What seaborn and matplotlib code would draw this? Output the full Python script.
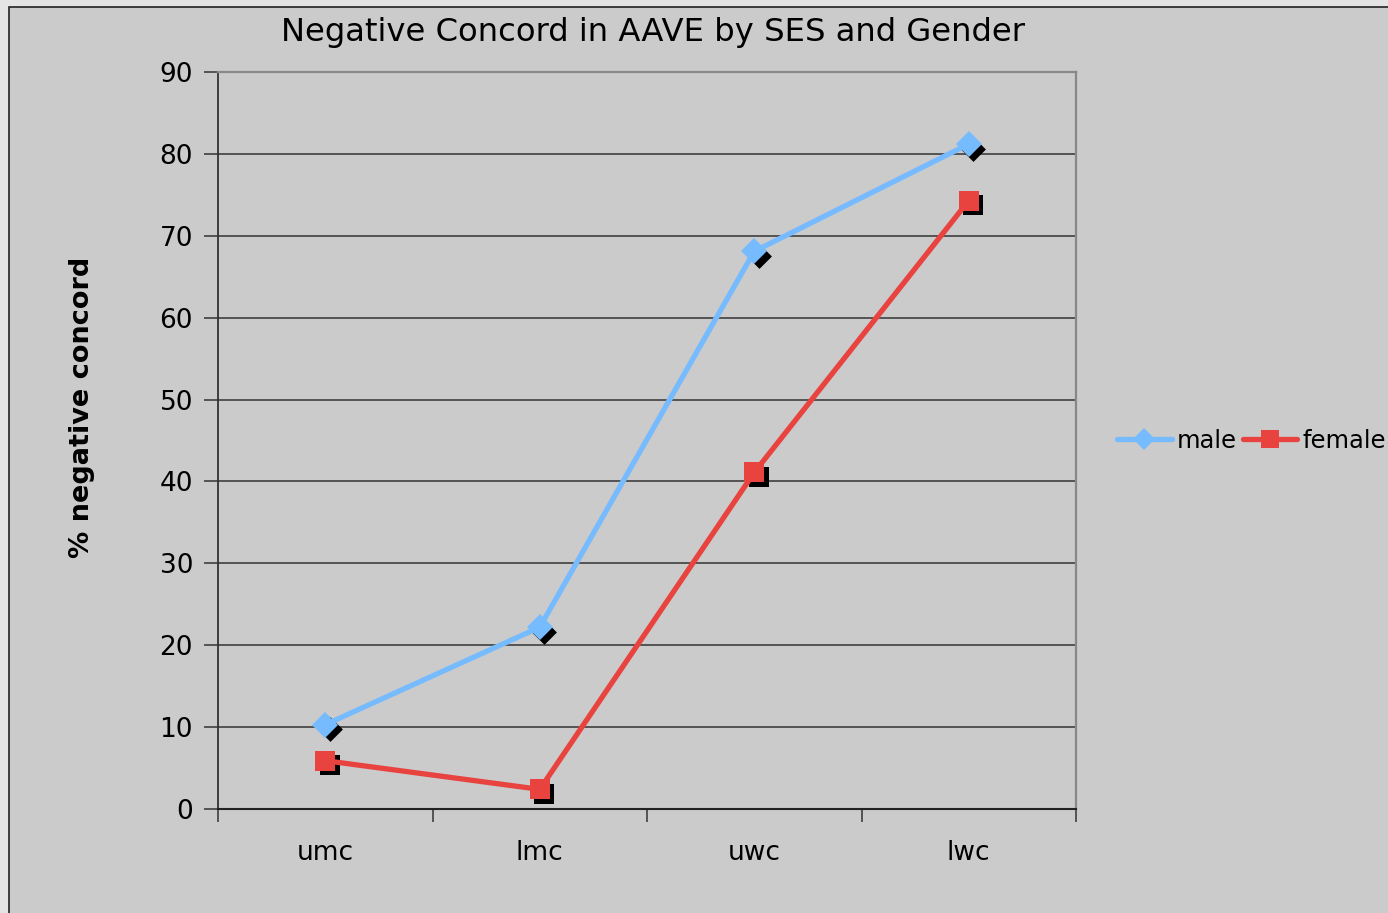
import numpy as np
import pandas as pd
import matplotlib
matplotlib.use("Agg")
import matplotlib.pyplot as plt
import matplotlib.transforms as mtransforms
from matplotlib.patches import Rectangle
from matplotlib.ticker import FixedLocator
import seaborn as sns

# data
classes = ["umc", "lmc", "uwc", "lwc"]
male = [10.3, 22.2, 68.1, 81.2]
female = [5.9, 2.4, 41.1, 74.3]

df = pd.DataFrame({
    "ses": classes * 2,
    "pct": male + female,
    "gender": ["male"] * 4 + ["female"] * 4,
})

sns.set_theme(style="white")
plt.rcParams["font.family"] = ["DejaVu Sans"]
plt.rcParams["text.color"] = "black"
plt.rcParams["xtick.color"] = "black"
plt.rcParams["ytick.color"] = "black"
plt.rcParams["axes.labelcolor"] = "black"

bg = "#CBCBCB"
palette = {"male": "#77BBFF", "female": "#E8433F"}
markers = {"male": "D", "female": "s"}

fig = plt.figure(figsize=(13.88, 9.13), dpi=100, facecolor="#E4E4E4")
# chart area box, like the excel chart frame
fig.patches.append(Rectangle((9 / 1388, -0.01), 1.0, 1 - 7 / 913 + 0.01,
                             transform=fig.transFigure, facecolor=bg,
                             edgecolor="#222222", linewidth=1.2, zorder=-5))

ax = fig.add_axes([218 / 1388, 1 - 809 / 913, (1076 - 218) / 1388, (809 - 72) / 913])
ax.set_facecolor(bg)

# black drop shadows under the markers
shadow = mtransforms.offset_copy(ax.transData, fig=fig, x=4.5, y=-4.5, units="dots")
for g in ["male", "female"]:
    sub = df[df["gender"] == g]
    sns.scatterplot(data=sub, x="ses", y="pct", ax=ax, color="black",
                    marker=markers[g], s=200 if g == "female" else 160,
                    linewidth=0, transform=shadow, zorder=3, legend=False)

sns.lineplot(data=df, x="ses", y="pct", hue="gender", style="gender",
             palette=palette, markers=markers, dashes=False, linewidth=3.8,
             markersize=13.5, markeredgewidth=0, ax=ax, zorder=4, sort=False)

for ln in ax.get_lines():
    if ln.get_marker() == "s":
        ln.set_markersize(14.5)

ax.set_xlim(-0.5, 3.5)
ax.set_ylim(0, 90)
ax.set_yticks(np.arange(0, 91, 10))
ax.yaxis.grid(True, color="#333333", linewidth=1.1)
ax.set_axisbelow(True)

ax.xaxis.set_minor_locator(FixedLocator(np.arange(-0.5, 3.6, 1)))
ax.tick_params(axis="x", which="major", length=0, pad=22, labelsize=19)
ax.tick_params(axis="x", which="minor", length=9, width=1.1, color="#333333",
               direction="out", bottom=True)
ax.tick_params(axis="y", length=10, width=1.1, color="#333333", labelcolor="black",
               direction="out", pad=8, labelsize=19, left=True)

for side in ["top", "right"]:
    ax.spines[side].set_color("#888888")
    ax.spines[side].set_linewidth(1.6)
ax.spines["left"].set_color("#333333")
ax.spines["bottom"].set_color("#222222")
ax.spines["left"].set_linewidth(1.3)
ax.spines["bottom"].set_linewidth(1.5)

ax.set_xlabel("")
ax.set_ylabel("")
fig.text(82 / 1388, 1 - 407 / 913, "% negative concord", rotation=90,
         ha="center", va="center", fontsize=19.5, fontweight="bold")
fig.text(653 / 1388, 1 - 33 / 913, "Negative Concord in AAVE by SES and Gender",
         ha="center", va="center", fontsize=23.2)

handles, labels = ax.get_legend_handles_labels()
ax.legend(handles, labels, loc="center left", bbox_to_anchor=(1117 / 1388, 1 - 441 / 913),
          bbox_transform=fig.transFigure, ncol=2, frameon=False, fontsize=17.5,
          handlelength=2.25, handletextpad=0.2, columnspacing=0.25, borderpad=0,
          borderaxespad=0, markerscale=0.85)

fig.savefig("out.png", dpi=100, facecolor=fig.get_facecolor())
